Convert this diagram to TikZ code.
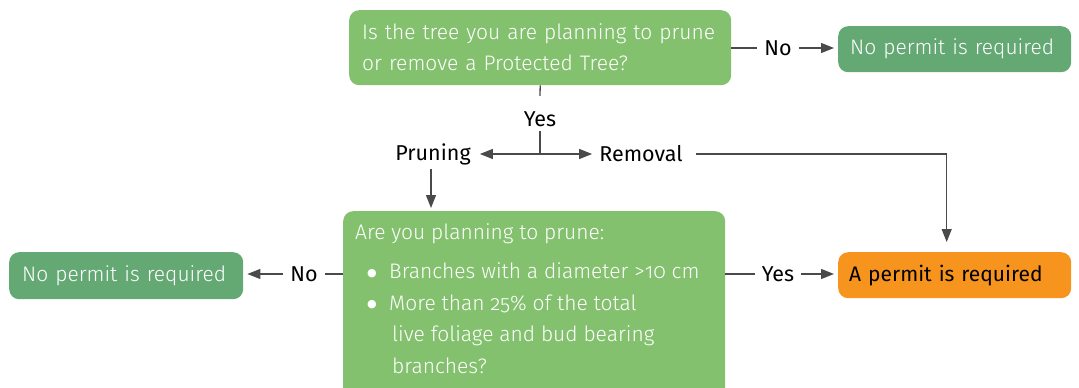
\documentclass[tikz,border=0pt]{standalone}
\usepackage{fontspec}
\setmainfont{Fira Sans}[RawFeature=+onum]
\newfontfamily\lightfont{Fira Sans Light}[RawFeature=+onum]
\newfontfamily\symfont{DejaVu Sans}
\usetikzlibrary{arrows.meta}
\definecolor{lgreen}{HTML}{84C16F}
\definecolor{dgreen}{HTML}{64A874}
\definecolor{orng}{HTML}{F7941E}
\definecolor{linec}{HTML}{4A4A4A}
\newcommand{\bul}{\makebox[23pt][l]{\hspace*{1pt}\raisebox{2.5pt}{\symfont\fontsize{11}{11}\selectfont ●}}}
\begin{document}
\begin{tikzpicture}[x=1pt,y=-1pt,
 box/.style={rounded corners=10pt, inner ysep=0pt, anchor=north west, align=left, font=\lightfont\fontsize{21}{31}\selectfont, text=white},
 lab/.style={font=\fontsize{21.5}{22}\selectfont, inner xsep=7pt, inner ysep=4pt, text=black},
 conn/.style={draw=linec, line width=1.3pt},
 arr/.style={conn, -{Triangle[length=13pt,width=10pt]}, shorten >=4pt}
]
\useasboundingbox (0,0) rectangle (1079,388);
\clip (0,0) rectangle (1079,388);
% boxes
\node[box, fill=lgreen, text width=356pt, inner xsep=13pt, minimum height=75pt] (q1) at (349,10) {Is the tree you are planning to prune\\or remove a Protected Tree?};
\node[box, fill=dgreen, text width=209pt, inner xsep=12pt, minimum height=46pt] (np1) at (838,26) {No permit is required};
\node[box, fill=dgreen, text width=208pt, inner xsep=13pt, minimum height=47pt] (np2) at (9,252) {No permit is required};
\node[box, fill=orng, text=black, font=\fontsize{21}{31}\selectfont, text width=211pt, inner xsep=11pt, minimum height=46pt] (permit) at (838,252) {A permit is required};
\node[box, fill=lgreen, inner xsep=12pt] (q2) at (343,211) {\begin{minipage}[t][195pt][t]{358pt}\fontsize{21}{31.5}\selectfont
\rule{0pt}{28pt}Are you planning to prune:\par
\vspace{8pt}
\hspace*{11pt}\bul Branches with a diameter >10 cm\par
\hspace*{11pt}\bul More than 25\% of the total\par
\hspace*{37pt}live foliage and bud bearing\par
\hspace*{37pt}branches?
\end{minipage}};
% labels
\node[lab] (no1) at (778,48) {No};
\node[lab] (yes1) at (540,119.5) {Yes};
\coordinate (split) at (540,154);
\node[lab, inner xsep=9pt] (prun) at (433,154) {Pruning};
\node[lab] (remo) at (641,154) {Removal};
\node[lab] (yes2) at (778,274) {Yes};
\node[lab] (no2) at (304,274) {No};
% connectors
\draw[conn] (q1.east |- no1.west) -- (no1.west);
\draw[arr] (no1.east) -- (np1.west |- no1.east);
\draw[conn] (q1.south) -- ([yshift=12pt]yes1.north);
\draw[conn] (yes1.south) -- (split);
\draw[arr, shorten >=0pt] (split) -- (prun.east);
\draw[arr, shorten >=0pt] (split) -- (remo.west);
\draw[arr, shorten >=10pt] ([xshift=6pt]remo.east) -| ([xshift=-8pt]permit.north);
\draw[arr, shorten >=3pt] ([xshift=-2pt]prun.south) -- ([xshift=-2pt]prun.south |- q2.north);
\draw[conn] (q2.east |- yes2.west) -- (yes2.west);
\draw[arr] (yes2.east) -- (permit.west |- yes2.east);
\draw[conn] (q2.west |- no2.east) -- (no2.east);
\draw[arr] (no2.west) -- (np2.east |- no2.west);
\end{tikzpicture}
\end{document}
